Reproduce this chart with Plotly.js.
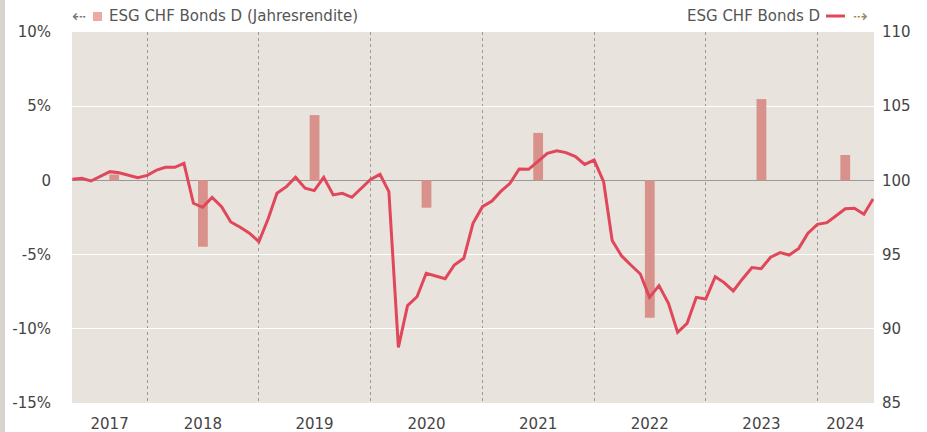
<!DOCTYPE html>
<html>
<head>
<meta charset="utf-8">
<script src="https://cdn.plot.ly/plotly-3.0.1.min.js"></script>
<style>
  html, body { margin: 0; padding: 0; background: #ffffff; }
  #chart { width: 927px; height: 432px; }
  #strip { position: absolute; left: 0; top: 0; width: 5px; height: 432px; background: #d8d2cc; }
</style>
</head>
<body>
<div id="chart"></div>
<div id="strip"></div>
<script>
// Annual returns (bars, left axis, %)
const barDates = ["2017-09-15", "2018-07-02", "2019-07-02", "2020-07-02", "2021-07-02", "2022-07-02", "2023-07-02", "2024-04-01"];
const barValues = [0.4, -4.47, 4.4, -1.84, 3.2, -9.25, 5.48, 1.71];

// Indexed price (line, right axis)
const lineDates = [
  "2017-05-01","2017-06-01","2017-07-01","2017-08-01","2017-09-01","2017-10-01","2017-11-01","2017-12-01",
  "2018-01-01","2018-02-01","2018-03-01","2018-04-01","2018-05-01","2018-06-01","2018-07-01","2018-08-01","2018-09-01","2018-10-01","2018-11-01","2018-12-01",
  "2019-01-01","2019-02-01","2019-03-01","2019-04-01","2019-05-01","2019-06-01","2019-07-01","2019-08-01","2019-09-01","2019-10-01","2019-11-01","2019-12-01",
  "2020-01-01","2020-02-01","2020-03-01","2020-04-01","2020-05-01","2020-06-01","2020-07-01","2020-08-01","2020-09-01","2020-10-01","2020-11-01","2020-12-01",
  "2021-01-01","2021-02-01","2021-03-01","2021-04-01","2021-05-01","2021-06-01","2021-07-01","2021-08-01","2021-09-01","2021-10-01","2021-11-01","2021-12-01",
  "2022-01-01","2022-02-01","2022-03-01","2022-04-01","2022-05-01","2022-06-01","2022-07-01","2022-08-01","2022-09-01","2022-10-01","2022-11-01","2022-12-01",
  "2023-01-01","2023-02-01","2023-03-01","2023-04-01","2023-05-01","2023-06-01","2023-07-01","2023-08-01","2023-09-01","2023-10-01","2023-11-01","2023-12-01",
  "2024-01-01","2024-02-01","2024-03-01","2024-04-01","2024-05-01","2024-06-01","2024-07-01"
];
const lineValues = [
  100.07, 100.14, 99.96, 100.28, 100.59, 100.52, 100.36, 100.18,
  100.34, 100.70, 100.88, 100.88, 101.15, 98.46, 98.19, 98.85, 98.23, 97.20, 96.84, 96.44,
  95.87, 97.45, 99.13, 99.58, 100.21, 99.47, 99.31, 100.21, 99.02, 99.13, 98.86, 99.47,
  100.07, 100.41, 99.24, 88.75, 91.56, 92.16, 93.74, 93.56, 93.38, 94.30, 94.75, 97.11,
  98.23, 98.61, 99.24, 99.80, 100.77, 100.75, 101.26, 101.83, 102.00, 101.87, 101.60, 101.08,
  101.37, 99.91, 95.95, 94.91, 94.30, 93.69, 92.12, 92.91, 91.72, 89.76, 90.37, 92.12,
  92.01, 93.51, 93.13, 92.55, 93.36, 94.13, 94.05, 94.82, 95.13, 94.97, 95.42, 96.44,
  97.04, 97.15, 97.60, 98.09, 98.12, 97.72, 98.75
];

// Tick labels
const yearTickDates = ["2017-08-31", "2018-07-02", "2019-07-02", "2020-07-02", "2021-07-02", "2022-07-02", "2023-07-02", "2024-04-01"];
const yearTickLabels = ["2017", "2018", "2019", "2020", "2021", "2022", "2023", "2024"];
const leftTickValues = [-15, -10, -5, 0, 5, 10];
const leftTickLabels = ["-15%", "-10%", "-5%", "0", "5%", "10%"];
const rightTickValues = [85, 90, 95, 100, 105, 110];
const rightTickLabels = ["85", "90", "95", "100", "105", "110"];

const barName = "ESG CHF Bonds D (Jahresrendite)";
const lineName = "ESG CHF Bonds D";

const FONT = "DejaVu Sans, Verdana, sans-serif";
const TXT = "#444444";
const RED = "#e0475a";

const traces = [
  {
    type: "bar", x: barDates, y: barValues, name: barName,
    marker: { color: "#d9918b" }, width: 32 * 86400000,
    yaxis: "y", hoverinfo: "skip"
  },
  {
    type: "scatter", mode: "lines", x: lineDates, y: lineValues, name: lineName,
    line: { color: RED, width: 3 }, yaxis: "y2", hoverinfo: "skip"
  }
];

const layout = {
  width: 927, height: 432,
  margin: { l: 72, r: 53, t: 32, b: 29 },
  paper_bgcolor: "#ffffff",
  plot_bgcolor: "#e8e3dc",
  showlegend: false,
  font: { family: FONT, size: 15, color: TXT },
  xaxis: {
    type: "date",
    range: ["2017-04-30", "2024-07-04"],
    tickmode: "array", tickvals: yearTickDates, ticktext: yearTickLabels,
    showgrid: false, zeroline: false, showline: false, ticks: "",
    ticklabelstandoff: 10,
    tickfont: { family: FONT, size: 15, color: TXT },
    minor: { dtick: "M12", tick0: "2018-01-01", showgrid: true, gridcolor: "#9a9a9a", griddash: "3px,3px", gridwidth: 1, ticks: "" }
  },
  yaxis: {
    range: [-15, 10], tickmode: "array", tickvals: leftTickValues, ticktext: leftTickLabels,
    showgrid: true, gridcolor: "#ffffff", gridwidth: 1,
    zeroline: true, zerolinecolor: "#999999", zerolinewidth: 1,
    showline: false, ticks: "", ticklabelstandoff: 20,
    tickfont: { family: FONT, size: 15, color: TXT }
  },
  yaxis2: {
    range: [85, 110], overlaying: "y", side: "right",
    tickmode: "array", tickvals: rightTickValues, ticktext: rightTickLabels,
    showgrid: false, zeroline: false, showline: false, ticks: "", ticklabelstandoff: 7,
    tickfont: { family: FONT, size: 15, color: TXT }
  },
  shapes: [
    { type: "rect", xref: "paper", yref: "paper", x0: 0.0262, x1: 0.0374, y0: 1.0296, y1: 1.0539, fillcolor: "#eea8a6", line: { width: 0 } },
    { type: "line", xref: "paper", yref: "paper", x0: 0.9401, x1: 0.9638, y0: 1.0431, y1: 1.0431, line: { color: RED, width: 3 } }
  ],
  annotations: [
    { xref: "paper", yref: "paper", x: -0.002, y: 1.0431, xanchor: "left", yanchor: "middle", showarrow: false,
      text: "⇠", font: { family: FONT, size: 17, color: "#777777" } },
    { xref: "paper", yref: "paper", x: 0.0436, y: 1.0431, xanchor: "left", yanchor: "middle", showarrow: false,
      text: barName, font: { family: FONT, size: 15, color: "#555555" } },
    { xref: "paper", yref: "paper", x: 0.9352, y: 1.0431, xanchor: "right", yanchor: "middle", showarrow: false,
      text: lineName, font: { family: FONT, size: 15, color: "#555555" } },
    { xref: "paper", yref: "paper", x: 0.9716, y: 1.0431, xanchor: "left", yanchor: "middle", showarrow: false,
      text: "⇢", font: { family: FONT, size: 17, color: "#a08a5a" } }
  ]
};

Plotly.newPlot("chart", traces, layout, { staticPlot: true, displayModeBar: false });
</script>
</body>
</html>
